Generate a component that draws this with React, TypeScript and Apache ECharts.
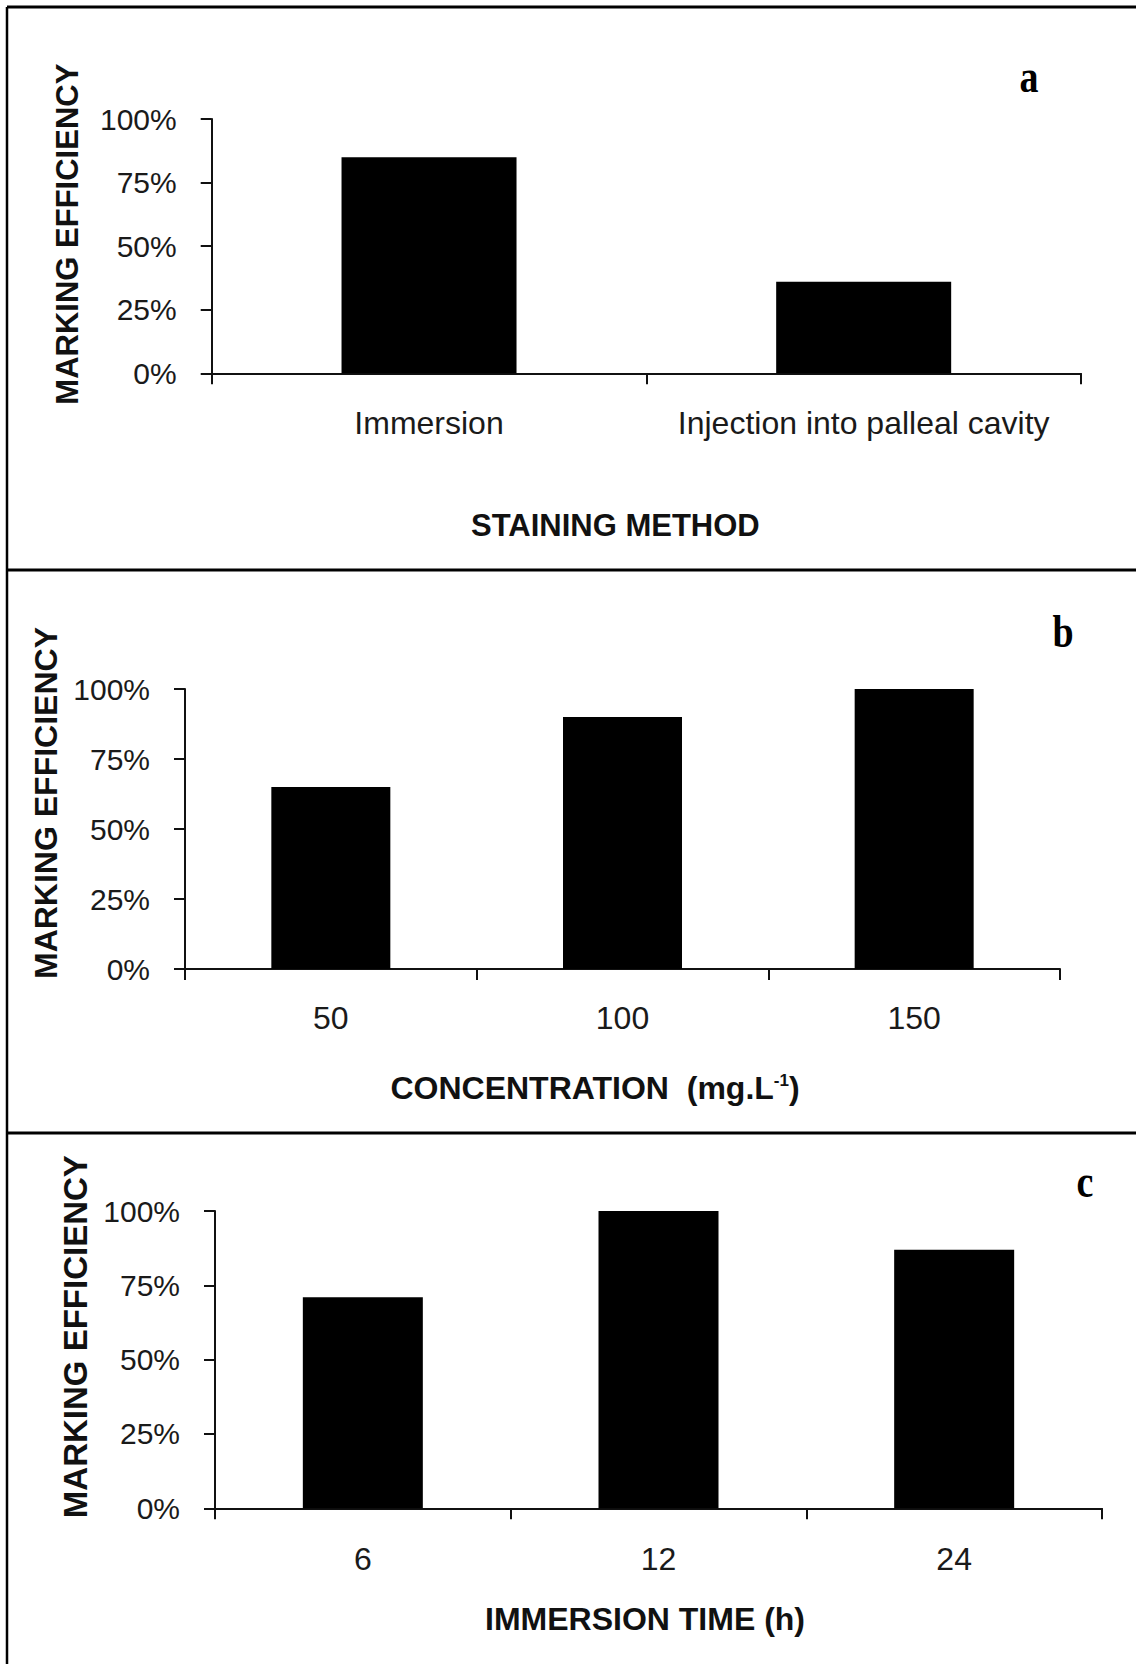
import React, { useEffect, useRef } from "react";
import * as echarts from "echarts";

// ---- data ----
const methodCategories = ["Immersion", "Injection into palleal cavity"];
const methodValues = [85, 36];

const concentrationCategories = ["50", "100", "150"];
const concentrationValues = [65, 90, 100];

const timeCategories = ["6", "12", "24"];
const timeValues = [71, 100, 87];

const yMin = 0;
const yMax = 100;
const yInterval = 25;

const yTitle = "MARKING EFFICIENCY";
const panelLetters = ["a", "b", "c"];

const SANS = '"Liberation Sans", Arial, sans-serif';
const SERIF = '"Liberation Serif", "Times New Roman", serif';

export default function App() {
  const ref = useRef<HTMLDivElement>(null);

  useEffect(() => {
    if (!ref.current) return;
    document.body.style.margin = "0";
    const chart = echarts.init(ref.current, undefined, { renderer: "svg" });

    const panels = [
      {
        cats: methodCategories,
        vals: methodValues,
        grid: { left: 211.7, top: 119, width: 869.3, height: 254.3 },
        xName: "STAINING METHOD",
        xNameGap: 137,
        xNamePad: [0, 62, 0, 0],
        xNameWeight: "bold",
        xNameSize: 31,
        yNameSize: 31,
        yNameGap: 129,
        yNamePad: [0, 0, 0, 24],
        xLabelMargin: 34,
        barWidth: 175,
      },
      {
        cats: concentrationCategories,
        vals: concentrationValues,
        grid: { left: 185, top: 689, width: 875, height: 280 },
        xName: "CONCENTRATION  (mg.L{sup|-1})",
        xNameGap: 103,
        xNamePad: [0, 55, 0, 0],
        xNameWeight: "bold",
        xNameSize: 32,
        yNameSize: 32,
        yNameGap: 122,
        yNamePad: [0, 0, 0, 52],
        xLabelMargin: 33,
        barWidth: 119,
      },
      {
        cats: timeCategories,
        vals: timeValues,
        grid: { left: 215, top: 1211, width: 887, height: 297.3 },
        xName: "IMMERSION TIME (h)",
        xNameGap: 95,
        xNamePad: [0, 27, 0, 0],
        xNameWeight: "bold",
        xNameSize: 32,
        yNameSize: 33,
        yNameGap: 123,
        yNamePad: [0, 0, 0, 46],
        xLabelMargin: 35,
        barWidth: 120,
      },
    ];

    const letterPos = [
      { x: 1029, y: 100 },
      { x: 1063, y: 655 },
      { x: 1085, y: 1205 },
    ];

    const axisLine = { show: true, lineStyle: { color: "#111", width: 2 } };
    const axisTick = { show: true, length: 11, lineStyle: { color: "#111", width: 2 } };

    const option: any = {
      animation: false,
      backgroundColor: "#ffffff",
      grid: panels.map((p) => ({ ...p.grid, containLabel: false })),
      xAxis: panels.map((p, i) => ({
        type: "category",
        gridIndex: i,
        data: p.cats,
        axisLine,
        axisTick: { ...axisTick, alignWithLabel: false },
        axisLabel: {
          color: "#1a1a1a",
          fontFamily: SANS,
          fontSize: 32,
          margin: p.xLabelMargin,
          interval: 0,
        },
        splitLine: { show: false },
        name: p.xName,
        nameLocation: "middle",
        nameGap: p.xNameGap,
        nameTextStyle: {
          color: "#111",
          fontFamily: SANS,
          fontSize: p.xNameSize,
          fontWeight: p.xNameWeight,
          padding: p.xNamePad,
          rich: {
            sup: {
              fontFamily: SANS,
              fontSize: 17,
              fontWeight: "bold",
              color: "#111",
              verticalAlign: "top",
            },
          },
        },
      })),
      yAxis: panels.map((p, i) => ({
        type: "value",
        gridIndex: i,
        min: yMin,
        max: yMax,
        interval: yInterval,
        axisLine,
        axisTick,
        splitLine: { show: false },
        axisLabel: {
          color: "#1a1a1a",
          fontFamily: SANS,
          fontSize: 30,
          margin: 35,
          formatter: "{value}%",
        },
        name: yTitle,
        nameLocation: "middle",
        nameRotate: 90,
        nameGap: p.yNameGap,
        nameTextStyle: {
          color: "#111",
          fontFamily: SANS,
          fontSize: p.yNameSize,
          fontWeight: "bold",
          padding: p.yNamePad,
        },
      })),
      series: panels.map((p, i) => ({
        type: "bar",
        xAxisIndex: i,
        yAxisIndex: i,
        data: p.vals,
        barWidth: p.barWidth,
        itemStyle: { color: "#000000" },
        silent: true,
      })),
      graphic: [
        { type: "line", shape: { x1: 7, y1: 7, x2: 1136, y2: 7 }, style: { stroke: "#000", lineWidth: 3 } },
        { type: "line", shape: { x1: 7, y1: 7, x2: 7, y2: 1664 }, style: { stroke: "#000", lineWidth: 2.5 } },
        { type: "line", shape: { x1: 7, y1: 570, x2: 1136, y2: 570 }, style: { stroke: "#000", lineWidth: 3 } },
        { type: "line", shape: { x1: 7, y1: 1133, x2: 1136, y2: 1133 }, style: { stroke: "#000", lineWidth: 3 } },
        ...panelLetters.map((t, i) => ({
          type: "text",
          x: letterPos[i].x,
          y: letterPos[i].y,
          scaleY: 1.2,
          style: {
            text: t,
            font: `bold 38px ${SERIF}`,
            fill: "#000",
            textAlign: "center",
            textVerticalAlign: "bottom",
          },
        })),
      ],
    };

    chart.setOption(option);
    return () => chart.dispose();
  }, []);

  return (
    <div
      ref={ref}
      style={{ position: "absolute", left: 0, top: 0, width: 1136, height: 1664, background: "#fff" }}
    />
  );
}
